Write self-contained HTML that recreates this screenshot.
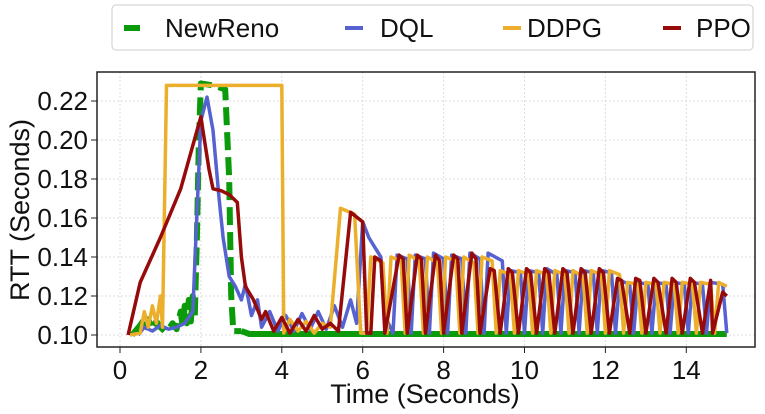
<!DOCTYPE html>
<html><head><meta charset="utf-8"><style>
html,body{margin:0;padding:0;background:#fff}
svg{display:block;font-family:"Liberation Sans","DejaVu Sans",sans-serif}
</style></head><body>
<svg id="chart" width="765" height="414" viewBox="0 0 765 414">
<g id="grid"></g>
<g id="series"></g>
<rect x="97" y="72" width="658" height="275" fill="none" stroke="#222" stroke-width="1.5"/>
<g id="axes"></g>
<text x="0" y="0" transform="translate(29,210) rotate(-90)" text-anchor="middle" font-size="27" fill="#111">RTT (Seconds)</text>
<text x="425" y="403" text-anchor="middle" font-size="27" fill="#111">Time (Seconds)</text>
<g>
<rect x="112" y="5" width="641" height="45" rx="4" fill="#fff" stroke="#ccc" stroke-width="1"/>
<g><line x1="124" y1="28" x2="140" y2="28" stroke="#0a9a0a" stroke-width="6"/><text x="165" y="37" font-size="26" fill="#111">NewReno</text></g>
<g><line x1="345" y1="28" x2="363" y2="28" stroke="#5662d0" stroke-width="4"/><text x="380" y="37" font-size="26" fill="#111">DQL</text></g>
<g><line x1="503" y1="28" x2="521" y2="28" stroke="#ecaf2c" stroke-width="4"/><text x="527" y="37" font-size="26" fill="#111">DDPG</text></g>
<g><line x1="663" y1="28" x2="681" y2="28" stroke="#960a0a" stroke-width="4"/><text x="696" y="37" font-size="26" fill="#111">PPO</text></g>
</g>
</svg>
<script>
const xTicks=[0,2,4,6,8,10,12,14];
const yTicks=[0.10,0.12,0.14,0.16,0.18,0.20,0.22];
const yTickLabels=["0.10","0.12","0.14","0.16","0.18","0.20","0.22"];

const ddpgT=[0.25,0.5,0.6,0.7,0.8,0.9,1.0,1.05,1.15,4.0,4.05,4.2,4.4,4.6,4.8,5.0,5.2,5.45,5.8,5.95,6.1,6.2,6.5,6.6,6.7,6.95,7.05,7.15,7.4,7.5,7.6,7.85,7.95,8.05,8.3,8.4,8.5,8.75,8.85,8.95,9.2,9.3,9.4,9.65,9.75,9.85,10.1,10.2,10.3,10.55,10.65,10.75,11.0,11.1,11.2,11.45,11.55,11.65,11.9,12.0,12.1,12.35,12.45,12.55,12.8,12.9,13.0,13.25,13.35,13.45,13.7,13.8,13.9,14.15,14.25,14.35,14.6,14.7,14.8,15.0];
const ddpgV=[0.100,0.101,0.112,0.104,0.115,0.106,0.120,0.104,0.228,0.228,0.101,0.108,0.102,0.107,0.101,0.106,0.104,0.165,0.162,0.101,0.101,0.140,0.137,0.101,0.140,0.138,0.101,0.141,0.138,0.101,0.140,0.137,0.101,0.140,0.138,0.101,0.140,0.137,0.101,0.140,0.138,0.101,0.133,0.131,0.101,0.133,0.131,0.101,0.133,0.131,0.101,0.133,0.131,0.101,0.133,0.130,0.101,0.133,0.131,0.101,0.133,0.131,0.101,0.127,0.126,0.101,0.127,0.126,0.101,0.127,0.126,0.101,0.127,0.126,0.101,0.127,0.126,0.101,0.127,0.125];

const dqlT=[0.45,0.6,0.8,1.0,1.2,1.4,1.6,1.8,2.0,2.15,2.3,2.45,2.55,2.7,2.85,3.0,3.1,3.25,3.4,3.5,3.7,3.9,4.1,4.3,4.5,4.7,4.9,5.1,5.3,5.5,5.7,5.85,6.0,6.15,6.3,6.45,6.55,6.75,6.85,7.1,7.2,7.3,7.55,7.65,7.75,8.0,8.1,8.2,8.45,8.55,8.65,8.9,9.0,9.1,9.45,9.55,9.65,9.9,10.0,10.1,10.35,10.45,10.55,10.8,10.9,11.0,11.25,11.35,11.45,11.7,11.8,11.9,12.15,12.25,12.35,12.6,12.7,12.8,13.05,13.15,13.25,13.5,13.6,13.7,13.95,14.05,14.15,14.4,14.5,14.6,14.9,15.0];
const dqlV=[0.100,0.104,0.102,0.105,0.103,0.104,0.106,0.112,0.210,0.222,0.205,0.170,0.150,0.130,0.125,0.118,0.126,0.110,0.118,0.104,0.112,0.102,0.110,0.102,0.111,0.103,0.112,0.103,0.115,0.104,0.118,0.106,0.158,0.150,0.145,0.140,0.110,0.101,0.141,0.139,0.101,0.141,0.139,0.101,0.142,0.139,0.101,0.141,0.139,0.101,0.142,0.139,0.101,0.142,0.138,0.101,0.133,0.132,0.101,0.133,0.132,0.101,0.134,0.131,0.101,0.133,0.132,0.101,0.133,0.132,0.101,0.133,0.132,0.101,0.128,0.126,0.101,0.127,0.126,0.101,0.127,0.126,0.101,0.127,0.126,0.101,0.127,0.126,0.101,0.127,0.126,0.101];

const ppoT=[0.2,0.5,1.0,1.5,2.0,2.05,2.2,2.3,2.5,2.7,2.9,3.0,3.1,3.3,3.5,3.6,3.8,4.0,4.2,4.4,4.6,4.8,5.0,5.2,5.4,5.7,6.0,6.1,6.2,6.3,6.45,6.55,6.9,7.0,7.1,7.35,7.45,7.55,7.8,7.9,8.0,8.25,8.35,8.45,8.7,8.8,8.9,9.15,9.25,9.4,9.6,9.7,9.85,10.05,10.15,10.3,10.5,10.6,10.75,10.95,11.05,11.2,11.4,11.5,11.65,11.85,11.95,12.1,12.3,12.4,12.6,12.75,12.85,13.0,13.2,13.3,13.5,13.65,13.75,13.9,14.1,14.2,14.4,14.6,14.65,14.9,15.0];
const ppoV=[0.100,0.127,0.150,0.175,0.212,0.205,0.185,0.175,0.174,0.172,0.168,0.140,0.125,0.118,0.108,0.112,0.102,0.109,0.101,0.108,0.102,0.110,0.103,0.106,0.102,0.163,0.158,0.101,0.101,0.140,0.138,0.101,0.141,0.139,0.101,0.141,0.139,0.101,0.141,0.138,0.101,0.141,0.139,0.101,0.142,0.139,0.101,0.134,0.133,0.101,0.134,0.132,0.101,0.134,0.132,0.101,0.134,0.132,0.101,0.134,0.132,0.101,0.134,0.132,0.101,0.134,0.132,0.101,0.129,0.128,0.101,0.129,0.128,0.101,0.129,0.127,0.101,0.129,0.127,0.101,0.129,0.127,0.101,0.128,0.101,0.122,0.120];

const renoT=[0.3,0.5,0.6,0.65,0.7,0.8,0.9,1.0,1.1,1.2,1.3,1.4,1.5,1.55,1.6,1.65,1.7,1.75,1.8,1.85,1.9,1.95,2.0,2.3,2.6,2.7,2.75,2.8,3.0];
const renoV=[0.100,0.105,0.108,0.104,0.108,0.103,0.107,0.104,0.102,0.103,0.106,0.103,0.112,0.104,0.115,0.106,0.118,0.107,0.120,0.110,0.150,0.200,0.229,0.228,0.226,0.180,0.120,0.102,0.102];
const renoTailT=[3.0,3.2,6.0,9.0,12.0,15.0];
const renoTailV=[0.102,0.1005,0.1005,0.1005,0.1005,0.1005];

const NS="http://www.w3.org/2000/svg";
const X0=120, XS=40.45, Y0=335, YS=1950;
function xs(t){return X0+t*XS;}
function ys(v){return Y0-(v-0.10)*YS;}

const grid=document.getElementById('grid'), axes=document.getElementById('axes'), series=document.getElementById('series');
xTicks.forEach(t=>{
  const l=document.createElementNS(NS,'line');
  l.setAttribute('x1',xs(t));l.setAttribute('x2',xs(t));l.setAttribute('y1',72);l.setAttribute('y2',347);
  l.setAttribute('stroke','#ddd');l.setAttribute('stroke-dasharray','2,2');
  
  
  grid.appendChild(l);
  const k=document.createElementNS(NS,'line');
  k.setAttribute('x1',xs(t));k.setAttribute('x2',xs(t));k.setAttribute('y1',347);k.setAttribute('y2',353);k.setAttribute('stroke','#222');
  
  
  axes.appendChild(k);
  const tx=document.createElementNS(NS,'text');
  tx.setAttribute('x',xs(t));tx.setAttribute('y',379);tx.setAttribute('text-anchor','middle');tx.setAttribute('font-size','26');tx.setAttribute('fill','#111');
  tx.textContent=String(t);
  
  
  axes.appendChild(tx);
});
yTicks.forEach((v,i)=>{
  const l=document.createElementNS(NS,'line');
  l.setAttribute('x1',97);l.setAttribute('x2',755);l.setAttribute('y1',ys(v));l.setAttribute('y2',ys(v));
  l.setAttribute('stroke','#ddd');l.setAttribute('stroke-dasharray','2,2');
  
  
  grid.appendChild(l);
  const k=document.createElementNS(NS,'line');
  k.setAttribute('x1',91);k.setAttribute('x2',97);k.setAttribute('y1',ys(v));k.setAttribute('y2',ys(v));k.setAttribute('stroke','#222');
  
  
  axes.appendChild(k);
  const tx=document.createElementNS(NS,'text');
  tx.setAttribute('x',88);tx.setAttribute('y',ys(v)+9);tx.setAttribute('text-anchor','end');tx.setAttribute('font-size','26');tx.setAttribute('fill','#111');
  tx.textContent=yTickLabels[i];
  
  
  axes.appendChild(tx);
});
function drawLine(T,V,color,w,dash,name){
  const p=document.createElementNS(NS,'polyline');
  p.setAttribute('points',T.map((t,i)=>xs(t).toFixed(1)+','+ys(V[i]).toFixed(1)).join(' '));
  p.setAttribute('fill','none');p.setAttribute('stroke',color);p.setAttribute('stroke-width',w);
  p.setAttribute('stroke-linejoin','round');
  if(dash)p.setAttribute('stroke-dasharray',dash);
  
  
  series.appendChild(p);
}
drawLine(renoT,renoV,'#0a9a0a',6,'18,7','newreno-line');
drawLine(renoTailT,renoTailV,'#0a9a0a',6,null,'newreno-line-tail');
drawLine(dqlT,dqlV,'#5662d0',3.5,null,'dql-line');
drawLine(ddpgT,ddpgV,'#ecaf2c',3.5,null,'ddpg-line');
drawLine(ppoT,ppoV,'#960a0a',3.5,null,'ppo-line');
</script>
</body></html>
